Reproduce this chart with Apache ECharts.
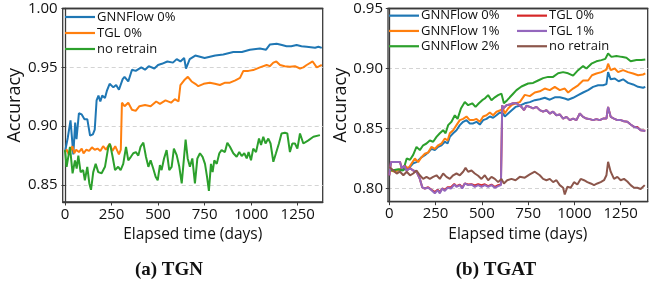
<!DOCTYPE html>
<html>
<head>
<meta charset="utf-8">
<script src="https://cdn.jsdelivr.net/npm/echarts@6/dist/echarts.min.js"></script>
<style>
  html, body { margin: 0; padding: 0; background: #fff; }
  #chart { width: 657px; height: 286px; }
</style>
</head>
<body>
<div id="chart"></div>
<script>
// tick labels
const xTicks = [0, 250, 500, 750, 1000, 1250];
const tgnYTicks = [0.85, 0.90, 0.95, 1.00];
const tgatYTicks = [0.80, 0.85, 0.90, 0.95];

// (a) TGN : [elapsed day, accuracy]
const tgnGnnflow0 = [
  [0,0.878],[15,0.890],[30,0.905],[45,0.876],[55,0.903],[62,0.889],[75,0.911],[90,0.910],[105,0.906],
  [120,0.906],[135,0.892],[150,0.893],[160,0.897],[170,0.922],[180,0.926],[190,0.921],[200,0.926],
  [215,0.924],[225,0.930],[240,0.936],[260,0.933],[275,0.935],[290,0.931],[310,0.940],[320,0.942],
  [340,0.938],[360,0.948],[380,0.947],[410,0.950],[430,0.948],[450,0.951],[480,0.949],[500,0.952],
  [520,0.953],[550,0.955],[580,0.954],[600,0.957],[620,0.955],[640,0.958],[650,0.949],[670,0.957],
  [700,0.960],[750,0.958],[807,0.960],[850,0.961],[904,0.963],[950,0.963],[993,0.965],[1047,0.966],
  [1080,0.965],[1101,0.9695],[1137,0.970],[1165,0.969],[1190,0.968],[1215,0.968],[1244,0.969],
  [1270,0.968],[1298,0.9675],[1343,0.9667],[1361,0.9675],[1379,0.9665]
];
const tgnTgl0 = [
  [0,0.878],[10,0.880],[20,0.876],[30,0.879],[40,0.883],[50,0.877],[60,0.880],[75,0.878],[90,0.881],
  [100,0.877],[115,0.880],[130,0.879],[145,0.882],[160,0.880],[175,0.881],[190,0.879],[205,0.883],
  [220,0.880],[240,0.885],[255,0.879],[270,0.883],[290,0.876],[300,0.880],[306,0.920],[320,0.917],
  [340,0.920],[360,0.914],[380,0.913],[400,0.917],[430,0.918],[460,0.917],[490,0.921],[510,0.919],
  [540,0.922],[570,0.920],[590,0.923],[610,0.921],[620,0.935],[640,0.939],[660,0.942],[680,0.938],
  [700,0.936],[716,0.934],[745,0.936],[778,0.937],[805,0.936],[832,0.935],[860,0.937],[886,0.937],
  [915,0.939],[940,0.941],[958,0.947],[985,0.947],[1011,0.9477],[1047,0.950],[1083,0.952],[1100,0.951],
  [1119,0.954],[1135,0.955],[1155,0.952],[1180,0.951],[1208,0.9506],[1235,0.951],[1262,0.949],
  [1280,0.950],[1298,0.952],[1330,0.955],[1352,0.950],[1366,0.951],[1379,0.952]
];
const tgnNoRetrain = [
  [0,0.8797],[9,0.8655],[27,0.8825],[41,0.860],[54,0.871],[63,0.864],[72,0.875],[84,0.861],[98,0.8627],
  [107,0.854],[120,0.8655],[131,0.8514],[140,0.846],[152,0.861],[165,0.868],[179,0.861],[197,0.860],
  [215,0.8655],[233,0.8825],[242,0.885],[256,0.874],[269,0.8627],[286,0.8655],[299,0.8627],[313,0.868],
  [328,0.8825],[340,0.871],[354,0.874],[367,0.877],[381,0.878],[394,0.875],[406,0.8825],[421,0.886],
  [435,0.874],[448,0.8655],[460,0.871],[474,0.864],[487,0.857],[498,0.854],[510,0.867],[519,0.8627],
  [532,0.8726],[546,0.8797],[560,0.8627],[573,0.8655],[585,0.881],[600,0.8754],[614,0.8655],[627,0.8514],
  [639,0.8726],[648,0.8887],[659,0.8726],[671,0.8655],[684,0.8726],[698,0.8514],[711,0.8726],[725,0.877],
  [739,0.874],[752,0.868],[763,0.857],[773,0.845],[784,0.868],[793,0.861],[802,0.871],[815,0.868],
  [829,0.877],[841,0.8797],[859,0.878],[872,0.886],[886,0.8825],[904,0.877],[922,0.874],[936,0.878],
  [949,0.8746],[963,0.877],[976,0.8726],[986,0.878],[999,0.871],[1011,0.881],[1026,0.878],[1042,0.8895],
  [1053,0.884],[1065,0.891],[1077,0.8853],[1092,0.8895],[1104,0.8853],[1119,0.8698],[1133,0.877],
  [1149,0.8853],[1163,0.8938],[1181,0.8944],[1194,0.8938],[1208,0.878],[1221,0.8853],[1235,0.8853],
  [1248,0.881],[1262,0.8938],[1280,0.8853],[1307,0.888],[1334,0.891],[1369,0.8924]
];

// (b) TGAT : [elapsed day, accuracy]
const tgatGnnflow0 = [
  [0,0.8167],[22,0.815],[58,0.815],[85,0.816],[112,0.818],[129,0.821],[147,0.822],[174,0.826],[192,0.8278],
  [210,0.830],[228,0.833],[246,0.832],[264,0.8347],[282,0.836],[300,0.839],[315,0.8375],[327,0.843],
  [345,0.846],[363,0.8486],[381,0.8528],[399,0.8556],[417,0.857],[435,0.8542],[453,0.8542],[471,0.8556],
  [489,0.8533],[507,0.857],[525,0.858],[543,0.860],[561,0.859],[579,0.861],[597,0.8633],[615,0.8625],
  [624,0.860],[642,0.8625],[660,0.865],[682,0.868],[705,0.869],[732,0.871],[759,0.872],[786,0.8736],
  [813,0.8744],[840,0.8756],[867,0.874],[894,0.876],[921,0.876],[948,0.875],[966,0.874],[993,0.8756],
  [1020,0.8778],[1047,0.880],[1074,0.882],[1101,0.8847],[1128,0.886],[1155,0.886],[1173,0.887],
  [1182,0.897],[1196,0.891],[1218,0.8917],[1239,0.8894],[1263,0.891],[1290,0.888],[1317,0.8867],
  [1344,0.8847],[1371,0.884],[1383,0.8847]
];
const tgatGnnflow1 = [
  [0,0.8153],[31,0.814],[67,0.8167],[85,0.819],[103,0.8167],[121,0.821],[138,0.825],[156,0.822],[174,0.826],
  [192,0.829],[210,0.830],[228,0.8347],[246,0.833],[264,0.836],[282,0.8375],[300,0.8417],[315,0.840],
  [327,0.846],[345,0.8486],[363,0.8528],[381,0.857],[399,0.858],[417,0.860],[435,0.857],[453,0.857],
  [471,0.858],[489,0.8556],[507,0.860],[525,0.861],[543,0.8633],[561,0.861],[579,0.864],[597,0.865],
  [615,0.8667],[624,0.8625],[642,0.8667],[660,0.8694],[682,0.871],[705,0.872],[732,0.878],[759,0.877],
  [786,0.880],[813,0.881],[840,0.8833],[867,0.882],[894,0.8847],[921,0.882],[948,0.8833],[966,0.880],
  [993,0.8833],[1020,0.886],[1047,0.890],[1074,0.890],[1095,0.8944],[1119,0.8958],[1146,0.897],
  [1173,0.899],[1182,0.904],[1196,0.8986],[1218,0.900],[1236,0.897],[1263,0.8986],[1290,0.897],
  [1317,0.8958],[1344,0.8944],[1371,0.895],[1383,0.896]
];
const tgatGnnflow2 = [
  [0,0.8167],[13,0.815],[49,0.816],[75,0.815],[94,0.825],[112,0.824],[129,0.828],[147,0.8347],[165,0.832],
  [183,0.836],[201,0.8375],[219,0.840],[237,0.839],[255,0.843],[273,0.846],[291,0.8486],[304,0.846],
  [318,0.8528],[336,0.8556],[354,0.861],[369,0.858],[387,0.8667],[408,0.872],[426,0.8694],[448,0.871],
  [466,0.868],[484,0.871],[502,0.8736],[516,0.875],[534,0.8778],[552,0.8736],[570,0.876],[588,0.8778],
  [606,0.879],[619,0.871],[637,0.8736],[651,0.876],[669,0.879],[687,0.882],[714,0.885],[750,0.8875],
  [777,0.888],[804,0.890],[831,0.892],[858,0.893],[885,0.893],[912,0.896],[939,0.897],[966,0.896],
  [993,0.894],[1020,0.8986],[1047,0.902],[1065,0.900],[1092,0.904],[1119,0.906],[1146,0.907],[1167,0.908],
  [1182,0.9125],[1200,0.9097],[1227,0.9105],[1254,0.9097],[1281,0.909],[1304,0.906],[1335,0.907],
  [1362,0.907],[1383,0.9075]
];
const tgatTgl0 = [
  [0,0.811],[9,0.822],[31,0.822],[58,0.822],[67,0.817],[81,0.819],[94,0.815],[112,0.817],[129,0.815],
  [147,0.814],[165,0.808],[178,0.801],[192,0.800],[210,0.801],[228,0.799],[246,0.797],[261,0.799],
  [273,0.797],[286,0.800],[300,0.799],[315,0.801],[333,0.801],[351,0.8038],[363,0.802],[381,0.8033],
  [394,0.8008],[408,0.8042],[426,0.8033],[444,0.8036],[462,0.8025],[480,0.8035],[498,0.8028],[516,0.8035],
  [534,0.802],[552,0.8033],[570,0.8014],[588,0.8028],[603,0.8033],[610,0.8694],[615,0.8667],[633,0.8694],
  [651,0.870],[669,0.871],[687,0.871],[714,0.868],[728,0.8653],[741,0.869],[759,0.868],[777,0.8667],
  [795,0.868],[813,0.8653],[831,0.864],[849,0.8653],[867,0.8625],[885,0.864],[903,0.861],[921,0.8617],
  [939,0.8583],[957,0.8597],[975,0.857],[993,0.8583],[1011,0.857],[1029,0.8625],[1047,0.8597],[1065,0.8583],
  [1083,0.8578],[1101,0.857],[1119,0.8578],[1137,0.857],[1155,0.8583],[1173,0.8583],[1182,0.868],
  [1196,0.8597],[1214,0.8583],[1232,0.857],[1250,0.857],[1268,0.856],[1286,0.8556],[1304,0.8533],
  [1322,0.8514],[1340,0.8512],[1358,0.8486],[1383,0.8482]
];
const tgatTgl1 = [
  [0,0.811],[9,0.822],[31,0.822],[58,0.822],[67,0.8167],[81,0.819],[94,0.815],[112,0.8167],[129,0.815],
  [147,0.814],[165,0.808],[178,0.801],[192,0.800],[210,0.8006],[228,0.7986],[246,0.796],[261,0.7986],
  [273,0.796],[286,0.800],[300,0.798],[315,0.8006],[333,0.800],[351,0.8033],[363,0.8014],[381,0.8028],
  [394,0.800],[408,0.8042],[426,0.8028],[444,0.8033],[462,0.8014],[480,0.8028],[498,0.8014],[516,0.8028],
  [534,0.8014],[552,0.8028],[570,0.8006],[588,0.802],[603,0.8028],[610,0.8694],[615,0.8667],[633,0.8694],
  [651,0.870],[669,0.871],[687,0.871],[714,0.868],[728,0.8653],[741,0.869],[759,0.868],[777,0.8667],
  [795,0.868],[813,0.8653],[831,0.864],[849,0.8653],[867,0.8625],[885,0.864],[903,0.861],[921,0.8617],
  [939,0.8583],[957,0.8597],[975,0.857],[993,0.8583],[1011,0.857],[1029,0.8625],[1047,0.8597],[1065,0.8583],
  [1083,0.8578],[1101,0.857],[1119,0.8578],[1137,0.857],[1155,0.8583],[1173,0.8583],[1182,0.868],
  [1196,0.8597],[1214,0.8583],[1232,0.857],[1250,0.857],[1268,0.856],[1286,0.8556],[1304,0.8533],
  [1322,0.8514],[1340,0.8506],[1358,0.8486],[1383,0.848]
];
const tgatNoRetrain = [
  [0,0.818],[22,0.815],[40,0.8125],[58,0.814],[76,0.811],[94,0.814],[112,0.811],[129,0.8125],[147,0.815],
  [165,0.811],[183,0.808],[201,0.8097],[219,0.808],[237,0.8097],[255,0.811],[273,0.808],[291,0.8125],
  [309,0.8097],[327,0.808],[345,0.811],[363,0.8125],[381,0.811],[399,0.814],[412,0.8172],[426,0.814],
  [444,0.815],[462,0.8125],[480,0.8106],[498,0.808],[516,0.811],[534,0.8069],[552,0.8097],[570,0.808],
  [588,0.8053],[606,0.808],[619,0.8042],[637,0.8069],[660,0.808],[682,0.8069],[705,0.8097],[732,0.809],
  [759,0.8117],[786,0.814],[813,0.811],[831,0.808],[849,0.8069],[867,0.808],[885,0.8053],[903,0.8069],
  [921,0.8028],[939,0.8006],[948,0.795],[962,0.8014],[980,0.8006],[998,0.8053],[1016,0.8033],[1034,0.808],
  [1052,0.8069],[1070,0.8053],[1088,0.8042],[1106,0.8028],[1124,0.8042],[1142,0.8053],[1160,0.8069],
  [1173,0.811],[1182,0.8222],[1196,0.814],[1214,0.808],[1232,0.8097],[1250,0.8069],[1268,0.808],
  [1286,0.8058],[1304,0.8028],[1322,0.8006],[1340,0.8006],[1358,0.7996],[1380,0.8028]
];

const FONT = '"Open Sans", "DejaVu Sans", sans-serif';
const FRAME = '#3a3a3a';
const C = {
  blue: '#1f77b4', orange: '#ff7f0e', green: '#2ca02c',
  red: '#d62728', purple: '#9467bd', brown: '#8c564b'
};

function xAxisCfg(gridIndex, min, max) {
  return {
    type: 'value', gridIndex, min, max,
    name: 'Elapsed time (days)', nameLocation: 'middle', nameGap: 21,
    nameTextStyle: { fontFamily: FONT, fontSize: 15.5, color: '#111' },
    axisLine: { show: true, onZero: false, lineStyle: { color: FRAME, width: 1.3 } },
    axisTick: { show: true, length: 3.5, customValues: xTicks, lineStyle: { color: FRAME } },
    axisLabel: {
      customValues: xTicks, margin: 5, fontFamily: FONT, fontSize: 15, color: '#111',
      formatter: v => String(v)
    },
    splitLine: { show: false }
  };
}

// frame edge on top, drawn over the dashed grid line at the top value
function topAxisCfg(gridIndex, min, max) {
  return {
    type: 'value', gridIndex, min, max, position: 'top', z: 5,
    axisLine: { show: true, onZero: false, lineStyle: { color: FRAME, width: 1.3 } },
    axisTick: { show: false }, axisLabel: { show: false }, splitLine: { show: false }
  };
}

function yAxisCfg(gridIndex, min, max, ticks) {
  return {
    type: 'value', gridIndex, min, max,
    name: 'Accuracy', nameLocation: 'middle', nameGap: 35,
    nameTextStyle: { fontFamily: FONT, fontSize: 18, color: '#111' },
    axisLine: { show: true, lineStyle: { color: FRAME, width: 1.3 } },
    axisTick: { show: true, length: 3.5, customValues: ticks, lineStyle: { color: FRAME } },
    axisLabel: {
      customValues: ticks, margin: 5, fontFamily: FONT, fontSize: 15, color: '#111',
      formatter: v => v.toFixed(2)
    },
    splitLine: { show: true, lineStyle: { color: '#d4d4d4', type: [4, 3], width: 1 } }
  };
}

function line(name, data, color, idx) {
  return {
    name, type: 'line', data, xAxisIndex: idx, yAxisIndex: idx,
    symbol: 'none', showSymbol: false, animation: false,
    lineStyle: { color, width: 2 }, itemStyle: { color }
  };
}

function legendCfg(left, top, names, rowH) {
  return {
    left, top, orient: 'vertical', padding: 0, itemGap: 0,
    itemWidth: 30, itemHeight: 2.2, icon: 'rect',
    data: names,
    textStyle: { fontFamily: FONT, fontSize: 13, lineHeight: rowH, color: '#111', padding: [0, 0, 0, -3] }
  };
}

const chart = echarts.init(document.getElementById('chart'), null, { renderer: 'canvas' });
chart.setOption({
  animation: false,
  backgroundColor: '#fff',
  grid: [
    { left: 62.7, top: 8.5, width: 260, height: 193.5, show: true, borderColor: FRAME, borderWidth: 1.3, outerBoundsMode: 'none' },
    { left: 388, top: 8.5, width: 259.7, height: 193.2, show: true, borderColor: FRAME, borderWidth: 1.3, outerBoundsMode: 'none' }
  ],
  xAxis: [
    xAxisCfg(0, -12, 1384), xAxisCfg(1, -7, 1396),
    topAxisCfg(0, -12, 1384), topAxisCfg(1, -7, 1396)
  ],
  yAxis: [yAxisCfg(0, 0.8356, 1.0, tgnYTicks), yAxisCfg(1, 0.789, 0.95, tgatYTicks)],
  legend: [
    legendCfg(65, 9, ['GNNFlow 0%', 'TGL 0%', 'no retrain'], 16),
    legendCfg(389, 8, ['GNNFlow 0% ', 'GNNFlow 1%', 'GNNFlow 2%'], 15.3),
    legendCfg(517, 8, ['TGL 0% ', 'TGL 1%', 'no retrain '], 15.3)
  ],
  series: [
    line('GNNFlow 0%', tgnGnnflow0, C.blue, 0),
    line('TGL 0%', tgnTgl0, C.orange, 0),
    line('no retrain', tgnNoRetrain, C.green, 0),
    line('GNNFlow 0% ', tgatGnnflow0, C.blue, 1),
    line('GNNFlow 1%', tgatGnnflow1, C.orange, 1),
    line('GNNFlow 2%', tgatGnnflow2, C.green, 1),
    line('TGL 0% ', tgatTgl0, C.red, 1),
    line('TGL 1%', tgatTgl1, C.purple, 1),
    line('no retrain ', tgatNoRetrain, C.brown, 1)
  ],
  graphic: [
    { type: 'text', x: 169, y: 270, style: { text: '(a) TGN', font: 'bold 19px "Liberation Serif", serif', fill: '#111', align: 'center', verticalAlign: 'middle' } },
    { type: 'text', x: 496, y: 270, style: { text: '(b) TGAT', font: 'bold 19px "Liberation Serif", serif', fill: '#111', align: 'center', verticalAlign: 'middle' } }
  ]
});
</script>
</body>
</html>
